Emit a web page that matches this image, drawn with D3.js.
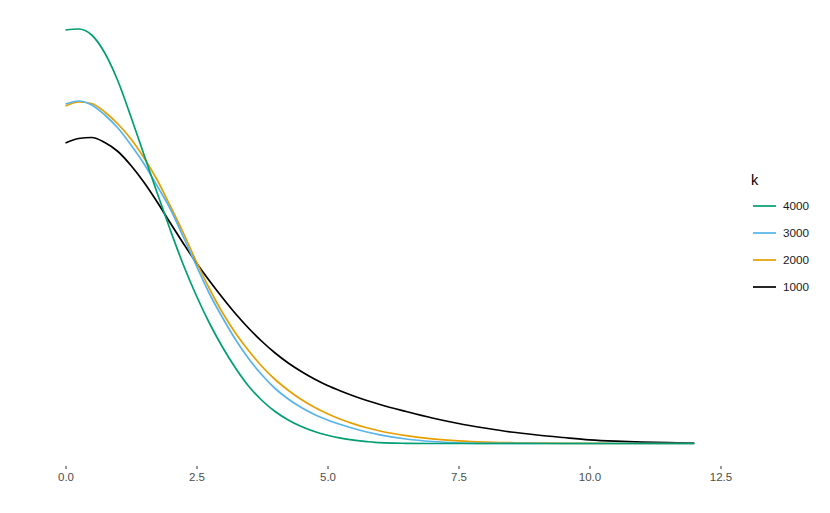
<!DOCTYPE html>
<html>
<head>
<meta charset="utf-8">
<script src="https://cdn.jsdelivr.net/npm/d3@7"></script>
<style>
  html, body { margin: 0; padding: 0; background: #fff; }
  svg { display: block; font-family: "Liberation Sans", Arial, Helvetica, sans-serif; }
</style>
</head>
<body>
<svg id="chart" width="830" height="513"></svg>
<script>
// ---- data ----
const xs = [0, 0.25, 0.5, 0.75, 1, 1.25, 1.5, 1.75, 2, 2.25, 2.5, 2.75, 3, 3.25, 3.5, 3.75, 4, 4.25, 4.5, 4.75, 5, 5.25, 5.5, 5.75, 6,
            6.5, 7, 7.5, 8, 8.5, 9, 9.5, 10, 10.5, 11, 11.5, 12];
const k4000 = [0.4135, 0.4145, 0.4085, 0.3905, 0.3625, 0.3265, 0.2885, 0.2505, 0.2135, 0.1785, 0.1475, 0.120, 0.096, 0.075, 0.057, 0.043, 0.032, 0.0235, 0.017, 0.012, 0.0082, 0.0054, 0.0034, 0.0019, 0.0008,
               0.0002, 0, 0, 0, 0, 0, 0, 0, 0, 0, 0, 0];
const k3000 = [0.3395, 0.3425, 0.3385, 0.3285, 0.3155, 0.2985, 0.2795, 0.2575, 0.2345, 0.2065, 0.1775, 0.1495, 0.1255, 0.1035, 0.0845, 0.0685, 0.055, 0.0445, 0.036, 0.029, 0.0235, 0.019, 0.015, 0.0115, 0.0087,
               0.0045, 0.002, 0.0007, 0.0002, 0.0001, 0, 0, 0, 0, 0, 0, 0];
const k2000 = [0.3375, 0.3415, 0.340, 0.3315, 0.3195, 0.3045, 0.2855, 0.2635, 0.2375, 0.2105, 0.1815, 0.1545, 0.1305, 0.110, 0.0925, 0.077, 0.064, 0.0533, 0.044, 0.0363, 0.0298, 0.0243, 0.0196, 0.0157, 0.0125,
               0.0078, 0.0046, 0.0026, 0.0014, 0.0008, 0.0004, 0.0002, 0.0001, 0, 0, 0, 0];
const k1000 = [0.3005, 0.305, 0.306, 0.301, 0.292, 0.278, 0.261, 0.2415, 0.2205, 0.200, 0.1805, 0.1625, 0.1455, 0.1295, 0.115, 0.102, 0.0905, 0.0805, 0.072, 0.0645, 0.058, 0.0525, 0.0475, 0.043, 0.039,
               0.032, 0.0255, 0.020, 0.0155, 0.0115, 0.0085, 0.006, 0.0037, 0.0023, 0.0014, 0.0009, 0.0005];
const seriesNames = ["4000", "3000", "2000", "1000"];
const seriesValues = [k4000, k3000, k2000, k1000];
const seriesColors = ["#009E73", "#56B4E9", "#E69F00", "#000000"];
const xTicks = [0, 2.5, 5, 7.5, 10, 12.5];
const legendTitle = "k";

// ---- layout ----
const svg = d3.select("#chart");
const x = d3.scaleLinear().domain([0, 12.5]).range([65.5, 720.5]);
const y = d3.scaleLinear().domain([0, 0.415]).range([443.5, 28.5]);

// x axis (ticks + labels, no domain line)
const xAxis = d3.axisBottom(x).tickValues(xTicks).tickFormat(d3.format(".1f")).tickSize(3).tickPadding(4);
const gx = svg.append("g").attr("transform", "translate(0,466)").call(xAxis);
gx.select(".domain").remove();
gx.selectAll(".tick line").attr("stroke", "#333333").attr("stroke-width", 1);
gx.selectAll(".tick text").attr("fill", "#4d4d4d").style("font-size", "11.5px")
  .style("font-family", "\"Liberation Sans\", Arial, sans-serif");

// lines (drawn from last to first so 4000 is on top)
const line = d3.line().x((d, i) => x(xs[i])).y(d => y(d)).curve(d3.curveMonotoneX);
const order = [3, 2, 1, 0];
order.forEach(i => {
  svg.append("path")
    .datum(seriesValues[i])
    .attr("fill", "none")
    .attr("stroke", seriesColors[i])
    .attr("stroke-width", 1.7)
    .attr("stroke-linejoin", "round")
    .attr("stroke-linecap", "butt")
    .attr("d", line);
});

// legend
const lg = svg.append("g").attr("transform", "translate(751,0)");
lg.append("text").attr("x", 0).attr("y", 185).text(legendTitle)
  .attr("fill", "#000").style("font-size", "14.5px");
seriesNames.forEach((name, i) => {
  const yy = 206 + i * 27;
  lg.append("line").attr("x1", 2).attr("x2", 25).attr("y1", yy).attr("y2", yy)
    .attr("stroke", seriesColors[i]).attr("stroke-width", 1.7);
  lg.append("text").attr("x", 32).attr("y", yy + 4.2).text(name)
    .attr("fill", "#1a1a1a").style("font-size", "11.7px");
});
</script>
</body>
</html>
